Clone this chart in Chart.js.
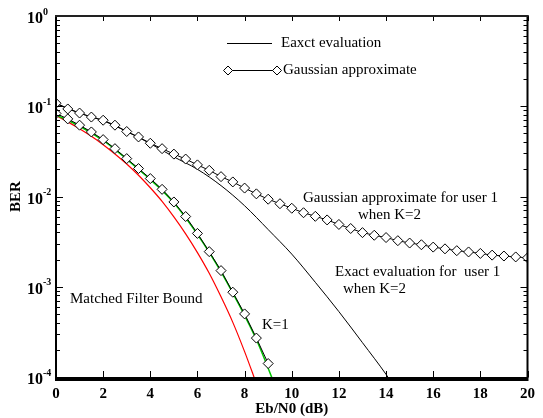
<!DOCTYPE html>
<html>
<head>
<meta charset="utf-8">
<script src="https://cdn.jsdelivr.net/npm/chart.js@4/dist/chart.umd.min.js"></script>
<style>
  body { margin: 0; background: #fff; }
</style>
</head>
<body>
<canvas id="berChart" width="543" height="418"></canvas>
<script>
// values (BER vs Eb/N0 in dB)
const ebn0Half = [0, 0.5, 1, 1.5, 2, 2.5, 3, 3.5, 4, 4.5, 5, 5.5, 6, 6.5, 7, 7.5, 8, 8.5, 9, 9.5,
  10, 10.5, 11, 11.5, 12, 12.5, 13, 13.5, 14, 14.5, 15, 15.5, 16, 16.5, 17, 17.5, 18, 18.5, 19, 19.5, 20];
const gaussK2 = [0.108, 0.0933, 0.0841, 0.0759, 0.0700, 0.0617, 0.0525, 0.0457, 0.0389, 0.0339,
  0.0295, 0.0260, 0.0224, 0.0195, 0.0166, 0.0145, 0.0124, 0.0107, 0.00933, 0.00832,
  0.00741, 0.00661, 0.00603, 0.00550, 0.00490, 0.00442, 0.00398, 0.00372, 0.00351, 0.00324,
  0.00305, 0.00292, 0.00275, 0.00263, 0.00251, 0.00243, 0.00234, 0.00224, 0.00219, 0.00214, 0.00209];

const ebn0Exact2 = [0, 1, 2, 3, 4, 5, 6, 7, 8, 9, 10, 11, 12, 13, 14, 14.5];
const exactK2 = [0.108, 0.084, 0.069, 0.0525, 0.0385, 0.0275, 0.020, 0.0132, 0.0079, 0.0043,
  0.0023, 0.00112, 0.00053, 0.00024, 0.000107, 0.000068];

const ebn0K1 = [0, 0.5, 1, 1.5, 2, 2.5, 3, 3.5, 4, 4.5, 5, 5.5, 6, 6.5, 7, 7.5, 8, 8.5, 9];
const gaussK1 = [0.0832, 0.0724, 0.0617, 0.0519, 0.0427, 0.0339, 0.0263, 0.0204, 0.0158, 0.0120,
  0.0087, 0.0060, 0.0039, 0.00245, 0.00151, 0.00087, 0.00050, 0.00027, 0.000141];

const ebn0Green = [0, 0.5, 1, 1.5, 2, 2.5, 3, 3.5, 4, 4.5, 5, 5.5, 6, 6.5, 7, 7.5, 8, 8.5, 9, 9.5];
const exactK1 = [0.0800, 0.0700, 0.0600, 0.0505, 0.0418, 0.0333, 0.0259, 0.0200, 0.0154, 0.0117,
  0.0085, 0.0058, 0.0038, 0.00240, 0.00146, 0.00085, 0.00048, 0.00026, 0.000125, 0.000058];

const ebn0Mfb = [0, 0.5, 1, 1.5, 2, 2.5, 3, 3.5, 4, 4.5, 5, 5.5, 6, 6.5, 7, 7.5, 8, 8.5];
const mfbBound = [0.0786, 0.0671, 0.0563, 0.0464, 0.0375, 0.0296, 0.0229, 0.0172, 0.0125, 0.00883,
  0.00595, 0.00386, 0.00239, 0.00141, 0.000773, 0.000403, 0.000191, 0.0000846];

const xTicks = [0, 2, 4, 6, 8, 10, 12, 14, 16, 18, 20];
const yDecades = [1e-4, 1e-3, 1e-2, 1e-1, 1];
const yExponents = ['-4', '-3', '-2', '-1', '0'];

const serif = '"Liberation Serif", "Times New Roman", serif';

function pts(xs, ys) {
  return xs.map((x, i) => ({ x: x, y: ys[i] }));
}

// frame, inward ticks, y labels, legend and the notes on the plot
const decorations = {
  id: 'decorations',
  afterDraw(chart) {
    const ctx = chart.ctx;
    const a = chart.chartArea;
    const xs = chart.scales.x;
    const ys = chart.scales.y;
    ctx.save();

    ctx.strokeStyle = '#000';
    ctx.lineWidth = 1;
    ctx.beginPath();
    xTicks.forEach(v => {
      const px = Math.round(xs.getPixelForValue(v)) + 0.5;
      ctx.moveTo(px, a.bottom); ctx.lineTo(px, a.bottom - 6);
      ctx.moveTo(px, a.top); ctx.lineTo(px, a.top + 5);
    });
    yDecades.forEach((d, i) => {
      const py = Math.round(ys.getPixelForValue(d)) + 0.5;
      ctx.moveTo(a.left, py); ctx.lineTo(a.left + 7, py);
      ctx.moveTo(a.right, py); ctx.lineTo(a.right - 7, py);
      if (i < yDecades.length - 1) {
        for (let m = 2; m <= 9; m++) {
          const pm = Math.round(ys.getPixelForValue(m * d)) + 0.5;
          ctx.moveTo(a.left, pm); ctx.lineTo(a.left + 4, pm);
          ctx.moveTo(a.right, pm); ctx.lineTo(a.right - 4, pm);
        }
      }
    });
    ctx.stroke();

    // frame
    ctx.fillStyle = '#000';
    ctx.fillRect(a.left - 1, a.top - 1, 2, a.bottom - a.top + 2);
    ctx.fillRect(a.right - 1, a.top - 1, 2, a.bottom - a.top + 2);
    ctx.fillStyle = '#222';
    ctx.fillRect(a.left - 1, a.top - 1, a.right - a.left + 2, 2);
    ctx.fillStyle = '#000';
    ctx.fillRect(a.left - 1, a.bottom, a.right - a.left + 2, 4);

    // y tick labels 10^n
    yDecades.forEach((d, i) => {
      const py = ys.getPixelForValue(d);
      ctx.fillStyle = '#000';
      ctx.textBaseline = 'middle';
      ctx.font = 'bold 16px ' + serif;
      ctx.textAlign = 'right';
      ctx.fillText('10', 43, py + 3);
      ctx.font = 'bold 10px ' + serif;
      ctx.textAlign = 'left';
      ctx.fillText(yExponents[i], 43, py - 4);
    });

    // legend
    ctx.lineWidth = 1;
    ctx.strokeStyle = '#000';
    ctx.beginPath();
    ctx.moveTo(227, 43.5); ctx.lineTo(272, 43.5);
    ctx.moveTo(228, 70.5); ctx.lineTo(277, 70.5);
    ctx.stroke();
    [228, 277].forEach(x => {
      ctx.beginPath();
      ctx.moveTo(x - 4.5, 70.5); ctx.lineTo(x, 66); ctx.lineTo(x + 4.5, 70.5); ctx.lineTo(x, 75);
      ctx.closePath();
      ctx.fillStyle = '#fff';
      ctx.fill();
      ctx.stroke();
    });
    ctx.fillStyle = '#000';
    ctx.font = '15px ' + serif;
    ctx.textAlign = 'left';
    ctx.textBaseline = 'middle';
    ctx.fillText('Eaxct evaluation', 281, 43);
    ctx.fillText('Gaussian approximate', 283, 70);

    // notes
    ctx.fillText('Gaussian approximate for user 1', 303, 198);
    ctx.fillText('when K=2', 358, 215);
    ctx.fillText('Exact evaluation for  user 1', 335, 272);
    ctx.fillText('when K=2', 343, 289);
    ctx.fillText('Matched Filter Bound', 70, 299);
    ctx.fillText('K=1', 262, 325);

    ctx.restore();
  }
};

new Chart(document.getElementById('berChart'), {
  type: 'line',
  data: {
    datasets: [
      {
        label: 'Matched Filter Bound',
        data: pts(ebn0Mfb, mfbBound),
        borderColor: '#ff0000',
        borderWidth: 1.2,
        pointRadius: 0,
        cubicInterpolationMode: 'monotone',
        order: 3
      },
      {
        label: 'Exact K=1',
        data: pts(ebn0Green, exactK1),
        borderColor: '#00c800',
        borderWidth: 1.5,
        pointRadius: 0,
        cubicInterpolationMode: 'monotone',
        order: 2
      },
      {
        label: 'Eaxct evaluation',
        data: pts(ebn0Exact2, exactK2),
        borderColor: '#000',
        borderWidth: 1,
        pointRadius: 0,
        cubicInterpolationMode: 'monotone',
        order: 1
      },
      {
        label: 'Gaussian approximate K=1',
        data: pts(ebn0K1, gaussK1),
        borderColor: '#000',
        borderWidth: 1,
        pointStyle: 'rectRot',
        pointRadius: 5,
        pointBorderWidth: 1,
        pointBackgroundColor: '#fff',
        pointBorderColor: '#000',
        order: 0
      },
      {
        label: 'Gaussian approximate',
        data: pts(ebn0Half, gaussK2),
        borderColor: '#000',
        borderWidth: 1,
        pointStyle: 'rectRot',
        pointRadius: 5,
        pointBorderWidth: 1,
        pointBackgroundColor: '#fff',
        pointBorderColor: '#000',
        order: 0
      }
    ]
  },
  options: {
    responsive: false,
    animation: false,
    devicePixelRatio: 1,
    layout: { padding: { left: 0, right: 7, top: 16, bottom: 0 } },
    plugins: {
      legend: { display: false },
      tooltip: { enabled: false }
    },
    scales: {
      x: {
        type: 'linear',
        min: 0,
        max: 20,
        grid: { display: false, drawTicks: false },
        border: { display: false },
        afterBuildTicks: scale => { scale.ticks = xTicks.map(v => ({ value: v })); },
        afterFit: scale => { scale.height = 41; },
        ticks: {
          padding: 8,
          maxRotation: 0,
          color: '#000',
          font: { family: serif, size: 15, weight: 'bold' }
        },
        title: {
          display: true,
          text: 'Eb/N0 (dB)',
          color: '#000',
          padding: { top: 0, bottom: 0 },
          font: { family: serif, size: 15, weight: 'bold' }
        }
      },
      y: {
        type: 'logarithmic',
        min: 1e-4,
        max: 1,
        grid: { display: false, drawTicks: false },
        border: { display: false },
        afterBuildTicks: scale => { scale.ticks = yDecades.map(v => ({ value: v })); },
        afterFit: scale => { scale.width = 56; },
        ticks: { display: false },
        title: {
          display: true,
          text: 'BER',
          color: '#000',
          padding: { top: 7, bottom: 0 },
          font: { family: serif, size: 15, weight: 'bold' }
        }
      }
    }
  },
  plugins: [decorations]
});
</script>
</body>
</html>
